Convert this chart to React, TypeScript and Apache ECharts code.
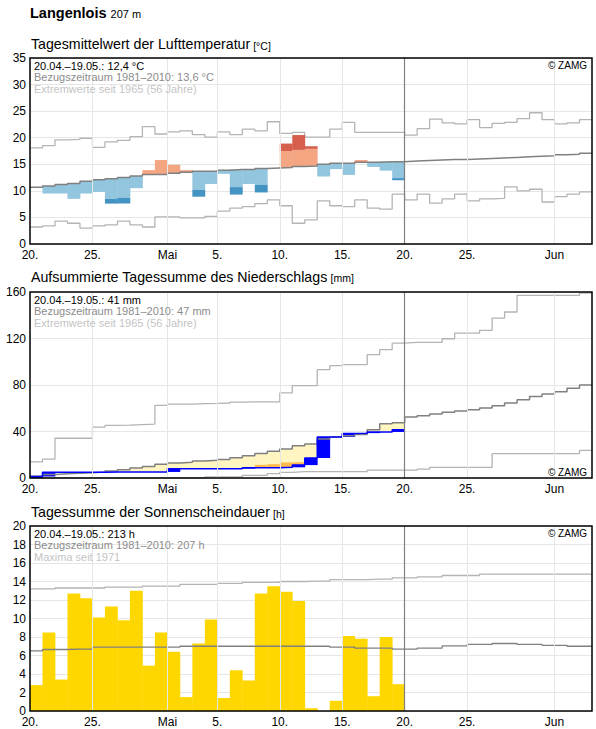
import React, { useEffect, useRef } from "react";
import * as echarts from "echarts";

const FONT = '"Liberation Sans", Arial, Helvetica, sans-serif';

// ---- x axis (days since 20.04.) ----
const DAY_COUNT = 45;
const xTickDays = [0, 5, 11, 15, 20, 25, 30, 35, 42];
const xTickTexts = ["20.", "25.", "Mai", "5.", "10.", "15.", "20.", "25.", "Jun"];
const gridLineDays = [5, 11, 15, 20, 25, 35, 42];
const todayDay = 30;

// ---- temperature (°C) ----
const tempObs = [10.7, 9.5, 9.5, 8.5, 9.5, 9.8, 7.6, 7.6, 10.5, 13.9, 15.8, 14.9, 13.9, 8.9, 11.3, 13.2, 9.3, 11.3, 9.7, 14.3, 18.9, 20.5, 18.4, 12.7, 14.1, 13.0, 15.8, 14.5, 13.8, 12.0];
const tempSigma = [3.8, 3.8, 3.8, 3.8, 3.8, 3.8, 3.8, 3.8, 3.6, 3.5, 3.5, 3.5, 3.5, 3.5, 3.3, 3.3, 3.3, 3.2, 3.1, 3.1, 3.1, 3.1, 3.2, 3.1, 3.1, 3.1, 3.1, 3.1, 3.1, 3.1];
const tempMean = [10.7, 10.9, 11.2, 11.4, 11.8, 12.1, 12.3, 12.5, 12.8, 13.1, 13.1, 13.3, 13.5, 13.7, 13.7, 13.9, 14.0, 14.0, 14.2, 14.3, 14.4, 14.6, 14.7, 15.0, 15.2, 15.2, 15.4, 15.4, 15.5, 15.5, 15.6, 15.7, 15.8, 15.9, 15.9, 16.0, 16.1, 16.2, 16.3, 16.4, 16.5, 16.6, 16.8, 16.9, 17.1];
const tempMax = [18.1, 18.5, 19.6, 19.7, 19.9, 18.2, 19.2, 19.5, 20.2, 22.1, 20.7, 21.1, 21.3, 20.6, 20.1, 21.1, 20.6, 21.6, 21.3, 23.0, 20.8, 21.0, 20.1, 20.1, 21.6, 22.9, 21.0, 21.0, 21.0, 21.0, 20.5, 21.7, 23.5, 22.8, 22.6, 23.4, 21.9, 22.7, 22.9, 23.6, 24.7, 23.4, 22.6, 22.8, 23.4];
const tempMin = [3.2, 3.4, 4.3, 3.9, 3.0, 3.4, 3.6, 4.3, 3.6, 3.2, 5.1, 5.1, 4.9, 4.9, 5.2, 6.2, 6.75, 7.05, 7.6, 8.3, 7.2, 3.9, 4.55, 8.1, 7.2, 7.05, 8.3, 6.75, 6.55, 9.4, 8.3, 9.4, 7.7, 8.5, 9.4, 8.1, 8.5, 8.6, 10.75, 10.0, 10.3, 7.9, 8.9, 9.4, 9.8];

// ---- precipitation, cumulative (mm) ----
const precObs = [1.3, 5.0, 5.0, 5.0, 5.0, 5.0, 5.2, 5.2, 5.2, 5.2, 5.2, 8.0, 8.0, 8.0, 8.0, 8.0, 8.0, 8.9, 8.9, 8.9, 9.2, 11.1, 17.2, 35.3, 35.3, 38.2, 38.6, 39.6, 39.6, 41.5];
const precLow = [0, 0, 0, 0, 0.5, 1, 1.5, 2, 2.5, 3, 3.5, 4, 4.5, 5, 5.5, 6, 7, 8.5, 11.3, 11.9, 13.4, 13.5, 14.5, 15.5, 16.5, 17.5, 18.5, 19.5, 21, 22];
const precMean = [1.6, 3.0, 3.6, 4.1, 4.6, 5.2, 6.1, 7.0, 8.5, 10.0, 11.8, 13.0, 13.5, 14.6, 15.2, 16.0, 17.5, 19.2, 21.0, 23.0, 25.0, 27.8, 29.2, 33.6, 35.3, 36.4, 37.5, 41.5, 46.6, 47.5, 52.4, 53.6, 55.0, 56.5, 57.6, 58.8, 60.2, 62.2, 64.5, 67.4, 70.2, 72.2, 74.2, 77.1, 80.0];
const precMax = [13.8, 16.3, 34.2, 34.2, 34.2, 43.8, 45.2, 45.5, 46.0, 46.4, 62.5, 63.6, 63.6, 64.0, 64.2, 64.5, 65.2, 65.4, 65.4, 65.4, 73.2, 79.4, 79.4, 93.2, 96.6, 97.5, 97.5, 106.1, 110.4, 116.1, 116.7, 116.7, 116.7, 119.8, 124.7, 124.7, 127.0, 137.6, 142.8, 157.1, 157.1, 157.1, 157.1, 157.1, 159.0];
const precMin = [0, 0, 0, 0, 0, 0, 0, 0, 0, 0, 0, 0, 0, 0, 0.9, 0.9, 0.9, 2.3, 2.3, 3.7, 4.9, 5.4, 5.4, 5.4, 5.4, 5.4, 5.4, 6.8, 6.8, 6.8, 6.8, 7.7, 9.2, 9.2, 9.2, 9.2, 9.2, 20.9, 20.9, 20.9, 20.9, 20.9, 20.9, 20.9, 23.8];

// ---- sunshine (h) ----
const sunObs = [2.8, 8.5, 3.4, 12.7, 12.2, 10.1, 11.3, 9.8, 13.0, 4.9, 8.5, 6.4, 1.5, 7.3, 9.9, 1.4, 4.4, 3.3, 12.7, 13.5, 12.9, 11.9, 0.3, 0, 1.1, 8.1, 7.8, 1.6, 8.0, 2.9];
const sunMean = [6.5, 6.65, 6.65, 6.7, 6.7, 6.9, 6.9, 6.9, 6.9, 6.9, 6.9, 6.9, 7.0, 7.0, 7.0, 7.0, 7.0, 7.0, 7.0, 7.0, 7.0, 7.0, 7.0, 7.0, 6.9, 6.9, 6.8, 6.8, 6.8, 6.7, 6.7, 6.8, 6.8, 7.05, 7.05, 7.2, 7.2, 7.3, 7.3, 7.2, 7.2, 7.1, 7.1, 7.0, 7.0];
const sunMax = [13.2, 13.2, 13.3, 13.3, 13.3, 13.3, 13.4, 13.4, 13.4, 13.5, 13.5, 13.5, 13.7, 13.7, 13.7, 13.8, 13.8, 13.9, 13.9, 13.9, 14.0, 14.0, 14.05, 14.05, 14.2, 14.2, 14.2, 14.25, 14.25, 14.4, 14.4, 14.5, 14.5, 14.65, 14.65, 14.65, 14.8, 14.8, 14.8, 14.8, 14.8, 14.8, 14.8, 14.8, 14.8];

// ---- texts ----
const stationName = "Langenlois";
const stationHeight = "207 m";
const panelTitles = ["Tagesmittelwert der Lufttemperatur", "Aufsummierte Tagessumme des Niederschlags", "Tagessumme der Sonnenscheindauer"];
const panelUnits = ["[°C]", "[mm]", "[h]"];
const panelInfo = [
  ["20.04.–19.05.: 12,4 °C", "Bezugszeitraum 1981–2010: 13,6 °C", "Extremwerte seit 1965 (56 Jahre)"],
  ["20.04.–19.05.: 41 mm", "Bezugszeitraum 1981–2010: 47 mm", "Extremwerte seit 1965 (56 Jahre)"],
  ["20.04.–19.05.: 213 h", "Bezugszeitraum 1981–2010: 207 h", "Maxima seit 1971"],
];
const yMax = [35, 160, 20];
const yInterval = [5, 40, 2];

// ---- layout ----
const W = 596;
const H = 729;
const GRID_LEFT = 30;
const GRID_RIGHT = 4;
const gridTops = [58, 292, 526];
const gridHeights = [186, 186, 185];
const titleBaselines = [49.3, 281.7, 517.3];
const zamgAtBottom = [false, true, false];

const C_MEAN = "#808080";
const C_EXT = "#b4b4b4";

function stepData(arr: number[]) {
  const d: number[][] = arr.map((v, i) => [i, v]);
  d.push([arr.length, arr[arr.length - 1]]);
  return d;
}

function measure(text: string, font: string) {
  const c = document.createElement("canvas").getContext("2d");
  if (!c) return text.length * 6;
  c.font = font;
  return c.measureText(text).width;
}

function txt(text: string, x: number, y: number, size: number, fill: string, weight = "normal", align = "left") {
  return {
    type: "text",
    z: 120,
    silent: true,
    style: {
      text,
      x,
      y,
      font: `${weight} ${size}px ${FONT}`,
      fill,
      align,
      textAlign: align,
      verticalAlign: "middle",
      textVerticalAlign: "middle",
    },
  };
}

export default function App() {
  const ref = useRef<HTMLDivElement>(null);

  useEffect(() => {
    if (!ref.current) return;
    const chart = echarts.init(ref.current, null, { renderer: "svg" });

    const grids = gridTops.map((t, i) => ({
      left: GRID_LEFT,
      right: GRID_RIGHT,
      top: t,
      height: gridHeights[i],
      containLabel: false,
    }));

    const xAxes = gridTops.map((_, i) => ({
      type: "value",
      gridIndex: i,
      min: 0,
      max: DAY_COUNT,
      interval: 1,
      axisLine: { show: false },
      axisTick: { show: false },
      splitLine: { show: false },
      axisLabel: {
        margin: 4.5,
        fontSize: 12,
        color: "#000",
        fontFamily: FONT,
        formatter: (v: number) => {
          const k = xTickDays.indexOf(Math.round(v));
          return k >= 0 ? xTickTexts[k] : "";
        },
      },
    }));

    const yAxes = gridTops.map((_, i) => ({
      type: "value",
      gridIndex: i,
      min: 0,
      max: yMax[i],
      interval: yInterval[i],
      axisLine: { show: false },
      axisTick: { show: false },
      splitLine: { lineStyle: { color: "#e6e6e6", width: 1 } },
      axisLabel: { margin: 4, fontSize: 12, color: "#000", fontFamily: FONT },
    }));

    const gridMarkLine = {
      silent: true,
      symbol: ["none", "none"],
      label: { show: false },
      lineStyle: { color: "#e6e6e6", width: 1, type: "solid" },
      data: gridLineDays.map((d) => ({ xAxis: d })),
    };
    const todayMarkLine = {
      silent: true,
      symbol: ["none", "none"],
      label: { show: false },
      lineStyle: { color: "#808080", width: 1.2, type: "solid" },
      data: [{ xAxis: todayDay }],
    };

    const stepLine = (idx: number, data: number[], color: string, width: number, z: number, extra: any = {}) => ({
      type: "line",
      xAxisIndex: idx,
      yAxisIndex: idx,
      data: stepData(data),
      step: "end",
      symbol: "none",
      z,
      lineStyle: { color, width },
      silent: true,
      ...extra,
    });

    const rectBetween = (api: any, d: number, a: number, b: number, fill: string) => {
      const xl = api.coord([d, 0])[0];
      const xr = api.coord([d + 1, 0])[0];
      const ya = api.coord([d, a])[1];
      const yb = api.coord([d, b])[1];
      return {
        type: "rect",
        shape: { x: xl, y: Math.min(ya, yb), width: xr - xl + 0.4, height: Math.abs(ya - yb) },
        style: { fill },
      };
    };

    const tempFill = {
      type: "custom",
      xAxisIndex: 0,
      yAxisIndex: 0,
      z: 2,
      silent: true,
      data: tempObs.map((v, i) => [i, tempMean[i], v, tempSigma[i]]),
      encode: { x: 0, y: [1, 2] },
      renderItem: (_p: any, api: any) => {
        const d = api.value(0), m = api.value(1), v = api.value(2), s = api.value(3);
        const ch: any[] = [];
        if (v > m) {
          ch.push(rectBetween(api, d, m, Math.min(v, m + s), "#f4a582"));
          if (v > m + s) ch.push(rectBetween(api, d, m + s, v, "#d6604d"));
        } else if (v < m) {
          ch.push(rectBetween(api, d, m, Math.max(v, m - s), "#92c5de"));
          if (v < m - s) ch.push(rectBetween(api, d, m - s, v, "#4393c3"));
        }
        return { type: "group", children: ch };
      },
    };

    const precFill = {
      type: "custom",
      xAxisIndex: 1,
      yAxisIndex: 1,
      z: 2,
      silent: true,
      data: precObs.map((v, i) => [i, precMean[i], v, i > 0 ? precObs[i - 1] : 0, precLow[i]]),
      encode: { x: 0, y: [1, 2] },
      renderItem: (_p: any, api: any) => {
        const d = api.value(0), m = api.value(1), v = api.value(2), prev = api.value(3), low = api.value(4);
        const ch: any[] = [];
        if (v < m) {
          ch.push(rectBetween(api, d, v, m, "#fff5c0"));
          if (v < low) ch.push(rectBetween(api, d, v, Math.min(low, m), "#fdbb4f"));
        }
        if (v > prev) ch.push(rectBetween(api, d, prev, v, "#0000ff"));
        return { type: "group", children: ch };
      },
    };

    const sunBars = {
      type: "custom",
      xAxisIndex: 2,
      yAxisIndex: 2,
      z: 2,
      silent: true,
      data: sunObs.map((v, i) => [i, v]),
      encode: { x: 0, y: 1 },
      renderItem: (_p: any, api: any) => {
        const d = api.value(0), v = api.value(1);
        if (!(v > 0)) return { type: "group", children: [] };
        return rectBetween(api, d, 0, v, "#ffd700");
      },
    };

    const series: any[] = [
      // temperature
      stepLine(0, tempMax, C_EXT, 1.3, 1, { markLine: gridMarkLine }),
      stepLine(0, tempMin, C_EXT, 1.3, 1),
      tempFill,
      stepLine(0, tempMean, C_MEAN, 1.5, 3, { markLine: todayMarkLine }),
      // precipitation
      stepLine(1, precMax, C_EXT, 1.3, 1, { markLine: gridMarkLine }),
      stepLine(1, precMin, C_EXT, 1.3, 1),
      precFill,
      stepLine(1, precMean, C_MEAN, 1.5, 3, { markLine: todayMarkLine }),
      stepLine(1, precObs, "#0000ff", 1.5, 4),
      // sunshine
      stepLine(2, sunMax, C_EXT, 1.3, 1, { markLine: gridMarkLine }),
      sunBars,
      stepLine(2, sunMean, C_MEAN, 1.3, 3, { markLine: todayMarkLine }),
    ];

    const plotW = W - GRID_LEFT - GRID_RIGHT;
    const graphics: any[] = [];
    // frames
    gridTops.forEach((t, i) => {
      graphics.push({
        type: "rect",
        z: 110,
        silent: true,
        shape: { x: GRID_LEFT, y: t, width: plotW, height: gridHeights[i] },
        style: { fill: "none", stroke: "#000", lineWidth: 1.5 },
      });
    });
    // header
    const headSize = 14.5;
    const headFont = `bold ${headSize}px ${FONT}`;
    const headW = measure(stationName, headFont);
    graphics.push(txt(stationName, 30, 18.3 - 0.35 * headSize, headSize, "#000", "bold"));
    graphics.push(txt(stationHeight, 30 + headW + 4, 18.3 - 0.35 * 11, 11, "#000"));
    // panel titles and info
    const titleSize = 14.2;
    gridTops.forEach((t, i) => {
      const tf = `normal ${titleSize}px ${FONT}`;
      const tw = measure(panelTitles[i], tf);
      const bl = titleBaselines[i];
      graphics.push(txt(panelTitles[i], 31, bl - 0.35 * titleSize, titleSize, "#000"));
      graphics.push(txt(panelUnits[i], 31 + tw + 3, bl - 0.35 * 10.5, 10.5, "#000"));
      const colors = ["#000", "#8c8c8c", "#c4c4c4"];
      panelInfo[i].forEach((line, k) => {
        graphics.push(txt(line, 34, t + 7.5 + k * 11.5, 11, colors[k]));
      });
      const zy = zamgAtBottom[i] ? t + gridHeights[i] - 6 : t + 7.5;
      graphics.push(txt("© ZAMG", GRID_LEFT + plotW - 5, zy, 10, "#000", "normal", "right"));
    });

    chart.setOption({
      animation: false,
      backgroundColor: "#fff",
      textStyle: { fontFamily: FONT },
      grid: grids,
      xAxis: xAxes,
      yAxis: yAxes,
      series,
      graphic: { elements: graphics },
    });

    return () => chart.dispose();
  }, []);

  return (
    <div
      ref={ref}
      style={{ position: "absolute", left: 0, top: 0, width: W, height: H, background: "#fff" }}
    />
  );
}
